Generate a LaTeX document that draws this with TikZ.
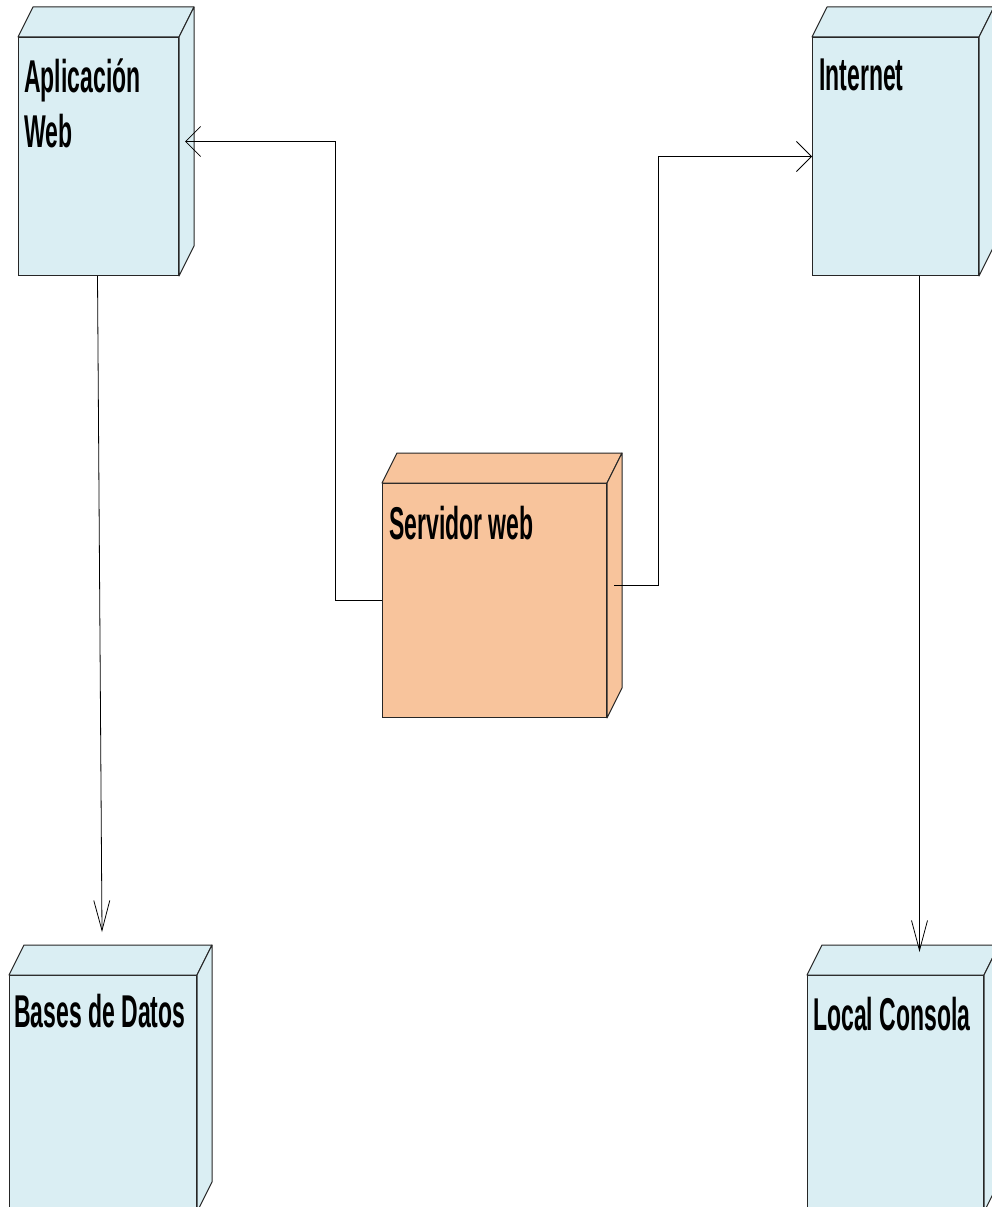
\documentclass[tikz,border=0pt]{standalone}
\usepackage{fontspec}
\setmainfont{Liberation Sans}[FakeStretch=0.5]
\usetikzlibrary{arrows.meta}
\definecolor{nodeblue}{HTML}{DAEEF3}
\definecolor{nodeorange}{HTML}{F8C49C}
\tikzset{
    devbox/.style={draw=black!85, line width=1pt, anchor=north west,
        inner sep=0pt},
    face/.style={draw=black!85, line width=1pt, line join=round},
    lbl/.style={anchor=base west, inner sep=0pt, align=left,
        font=\fontsize{46}{55}\selectfont\bfseries},
    harrow/.style={-{Straight Barb[length=15pt, width=30pt]},
        line width=0.8pt},
    varrow/.style={-{Straight Barb[length=30pt, width=16pt]},
        line width=0.8pt},
}
% top and side faces of a device box
\newcommand\nodefaces[2]{
    \filldraw[face, fill=#2] (#1.north west) -- ++(15,-30)
        -- ([shift={(15,-30)}]#1.north east) -- (#1.north east) -- cycle;
    \filldraw[face, fill=#2] (#1.north east) -- ++(15,-30)
        -- ([shift={(15,-30)}]#1.south east) -- (#1.south east) -- cycle;
}

\begin{document}
\begin{tikzpicture}[x=1pt, y=-1pt]
                \useasboundingbox (0,0) rectangle (992,1207);
                \clip (0,0) rectangle (992,1207);
                \node[devbox, fill=nodeblue, minimum width=160,
                    minimum height=238] (app) at (18,37) {};
                \node[devbox, fill=nodeblue, minimum width=166,
                    minimum height=238] (inet) at (812,37) {};
                \node[devbox, fill=nodeorange, minimum width=224,
                    minimum height=234] (srv) at (382,483) {};
                \node[devbox, fill=nodeblue, minimum width=187,
                    minimum height=236] (db) at (9,975) {};
                \node[devbox, fill=nodeblue, minimum width=176,
                    minimum height=236] (loc) at (807,975) {};
                \foreach \n/\c in {app/nodeblue, inet/nodeblue,
                    srv/nodeorange, db/nodeblue, loc/nodeblue}
                    {\nodefaces{\n}{\c}}
                % base of the last line for the two-line label
                \node[lbl] (app-t) at ([shift={(6,110)}]app.north west)
                    {Aplicación\\Web};
                \node[lbl] (inet-t) at ([shift={(7,53)}]inet.north west)
                    {Internet};
                \node[lbl] (srv-t) at ([shift={(7,56)}]srv.north west)
                    {Servidor web};
                \node[lbl] (db-t) at ([shift={(5,52)}]db.north west)
                    {Bases de Datos};
                \node[lbl] (loc-t) at ([shift={(6,55)}]loc.north west)
                    {Local Consola};
                % connectors
                \draw[harrow] (srv.west) -- ++(-47,0)
                    |- ([shift={(6,-15)}]app.east);
                \draw[harrow] ([shift={(7,-15)}]srv.east) -- ++(44,0)
                    |- (inet.west);
                \draw[varrow] ([shift={(-1,0)}]app.south)
                    -- ([shift={(-1,-43)}]db.north);
                \draw[varrow] ([shift={(24,0)}]inet.south)
                    -- ([shift={(24,-23)}]loc.north);
            \end{tikzpicture}
\end{document}
